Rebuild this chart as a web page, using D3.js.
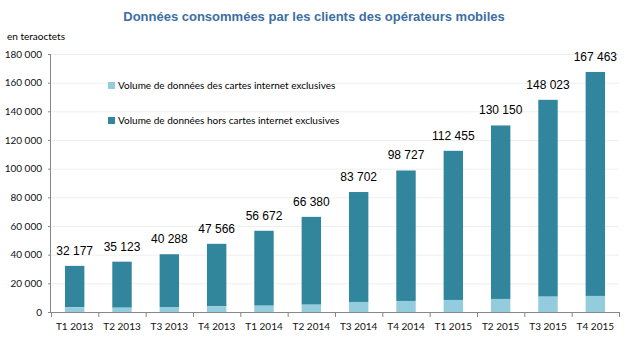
<!DOCTYPE html>
<html>
<head>
<meta charset="utf-8">
<script src="https://cdn.jsdelivr.net/npm/d3@7"></script>
<style>
  body { margin: 0; background: #fff; }
  .tick text { font-family: Lato, "Open Sans", sans-serif; font-size: 10px; fill: #111; }
  .value-label { font-family: "Liberation Sans", Arial, sans-serif; font-size: 12px; fill: #000; }
  .legend-text { font-family: Lato, "Open Sans", sans-serif; font-size: 10px; fill: #000; }
</style>
</head>
<body>
<div id="chart"></div>
<script>
// quarters and volumes (teraoctets)
var quarters = ["T1 2013", "T2 2013", "T3 2013", "T4 2013", "T1 2014", "T2 2014",
                "T3 2014", "T4 2014", "T1 2015", "T2 2015", "T3 2015", "T4 2015"]
var totals = [32177, 35123, 40288, 47566, 56672, 66380, 83702, 98727, 112455, 130150, 148023, 167463]
var cartesInternet = [3300, 3000, 3500, 4000, 4400, 5100, 7000, 7700, 8400, 9100, 10700, 11200]
var yTicks = [0, 20000, 40000, 60000, 80000, 100000, 120000, 140000, 160000, 180000]
var legendLabels = ["Volume de données des cartes internet exclusives",
                    "Volume de données hors cartes internet exclusives"]

var defaultWidth = 628
var defaultHeight = 341
var margin = { top: 54, right: 9, bottom: 29, left: 51 }
var width = defaultWidth - margin.left - margin.right
var height = defaultHeight - margin.top - margin.bottom

var lightColor = "#93cddd"
var darkColor = "#31859c"

var fmt = function(v){ return d3.format(",")(v).replace(/,/g, "\u00a0") }

var root = d3.select("#chart").append("svg")
    .attr("width", defaultWidth)
    .attr("height", defaultHeight)

root.append("text")
    .attr("x", 314)
    .attr("y", 21)
    .attr("text-anchor", "middle")
    .attr("font-family", "'Liberation Sans', Arial, sans-serif")
    .attr("font-size", "13px")
    .attr("font-weight", "bold")
    .attr("fill", "#3c6ea3")
    .text("Données consommées par les clients des opérateurs mobiles")

root.append("text")
    .attr("x", 7)
    .attr("y", 40)
    .attr("font-family", "Lato, 'Open Sans', sans-serif")
    .attr("font-size", "10px")
    .text("en teraoctets")

var svg = root.append("g")
    .attr("transform", "translate(" + margin.left + "," + margin.top + ")")

var x = d3.scaleBand()
    .domain(quarters)
    .range([0, width])
    .paddingInner(0.59)
    .paddingOuter(0.295)

var y = d3.scaleLinear()
    .domain([0, 180000])
    .range([height, 0])

// gridlines
svg.append("g")
    .selectAll("line")
    .data(yTicks.slice(1))
    .enter().append("line")
    .attr("x1", 0)
    .attr("x2", width)
    .attr("y1", d => y(d) + 0.5)
    .attr("y2", d => y(d) + 0.5)
    .attr("stroke", "#eeeeee")

var data = quarters.map(function(q, i){
    return { quarter: q, light: cartesInternet[i], dark: totals[i] - cartesInternet[i], total: totals[i] }
})

var bars = svg.append("g")

bars.selectAll(".bar-dark")
    .data(data)
    .enter().append("rect")
    .attr("class", "bar-dark")
    .attr("x", d => x(d.quarter))
    .attr("width", x.bandwidth())
    .attr("y", d => y(d.total))
    .attr("height", d => y(d.light) - y(d.total))
    .attr("fill", darkColor)

bars.selectAll(".bar-light")
    .data(data)
    .enter().append("rect")
    .attr("class", "bar-light")
    .attr("x", d => x(d.quarter))
    .attr("width", x.bandwidth())
    .attr("y", d => y(d.light))
    .attr("height", d => y(0) - y(d.light))
    .attr("fill", lightColor)

bars.selectAll(".value-label")
    .data(data)
    .enter().append("text")
    .attr("class", "value-label")
    .attr("x", d => x(d.quarter) + x.bandwidth() / 2)
    .attr("y", d => y(d.total) - 11)
    .attr("text-anchor", "middle")
    .text(d => fmt(d.total))

// axes
var y_axis = d3.axisLeft(y)
    .tickValues(yTicks)
    .tickSize(3)
    .tickPadding(6)
    .tickFormat(fmt)

var yAxisCall = svg.append("g").call(y_axis)
yAxisCall.select(".domain").attr("stroke", "#888").attr("d", "M-0.5,0V" + height)
yAxisCall.selectAll(".tick line").attr("stroke", "#888")

var xAxis = svg.append("g")
    .attr("transform", "translate(0," + height + ")")

xAxis.append("line")
    .attr("x1", 0).attr("x2", width)
    .attr("y1", 0.5).attr("y2", 0.5)
    .attr("stroke", "#888")

xAxis.selectAll(".sep")
    .data(d3.range(quarters.length + 1))
    .enter().append("line")
    .attr("x1", i => i * (width / quarters.length) + 0.5)
    .attr("x2", i => i * (width / quarters.length) + 0.5)
    .attr("y1", 0)
    .attr("y2", 5)
    .attr("stroke", "#888")

xAxis.selectAll(".tick")
    .data(quarters)
    .enter().append("g")
    .attr("class", "tick")
    .append("text")
    .attr("x", d => x(d) + x.bandwidth() / 2)
    .attr("y", 18)
    .attr("text-anchor", "middle")
    .text(d => d)

// legend
var legend = svg.append("g")
    .attr("transform", "translate(" + 57 + "," + 32 + ")")

legendLabels.forEach(function(label, i){
    var g = legend.append("g").attr("transform", "translate(0," + (i * 35) + ")")
    g.append("rect")
        .attr("x", 0).attr("y", -4)
        .attr("width", 7).attr("height", 7)
        .attr("fill", i === 0 ? lightColor : darkColor)
    g.append("text")
        .attr("class", "legend-text")
        .attr("x", 10).attr("y", 0)
        .attr("dominant-baseline", "middle")
        .text(label)
})
</script>
</body>
</html>
